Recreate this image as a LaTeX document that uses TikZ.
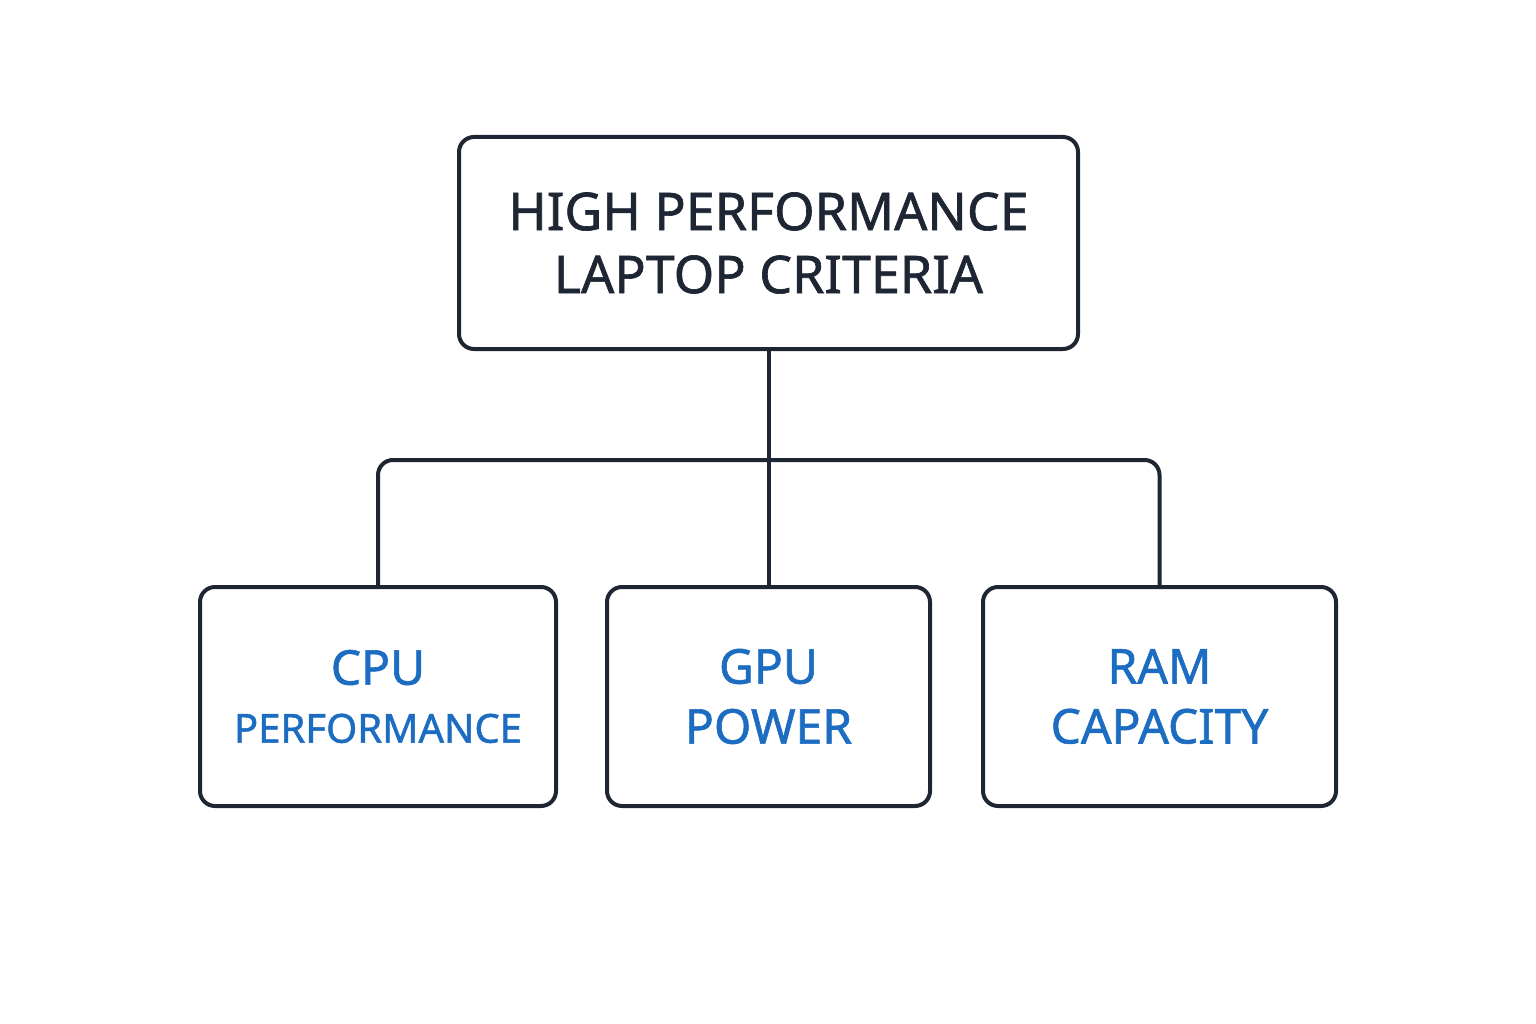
\documentclass[tikz,border=0pt]{standalone}
\usepackage{fontspec}
\setmainfont[FakeBold=1.2]{Noto Sans}
\definecolor{ink}{HTML}{1F2633}
\definecolor{bluetxt}{HTML}{1C6DC1}
\begin{document}
\begin{tikzpicture}[x=1pt,y=-1pt,
  box/.style={draw=ink,line width=4pt,rounded corners=15pt,fill=white,inner sep=0pt,align=center},
  link/.style={draw=ink,line width=4pt,rounded corners=15pt}]
\useasboundingbox (0,0) rectangle (1536,1024);
\node[box,minimum width=619pt,minimum height=212pt,text=ink,font=\fontsize{52}{63}\selectfont] (top) at (768.5,243) {HIGH PERFORMANCE\\LAPTOP CRITERIA};
\node[box,minimum width=356pt,minimum height=219pt,text=bluetxt,font=\fontsize{48}{58}\selectfont] (cpu) at (378,696.5) {CPU\\{\fontsize{40}{58}\selectfont PERFORMANCE}};
\node[box,minimum width=323pt,minimum height=219pt,text=bluetxt,font=\fontsize{48}{60}\selectfont] (gpu) at (768.5,696.5) {GPU\\POWER};
\node[box,minimum width=353pt,minimum height=219pt,text=bluetxt,font=\fontsize{48}{60}\selectfont] (ram) at (1159.5,696.5) {RAM\\CAPACITY};
\coordinate (j) at (768.5,460);
\draw[link] (top.south) -- (gpu.north);
\draw[link] (cpu.north) |- (j) -| (ram.north);
\end{tikzpicture}
\end{document}
